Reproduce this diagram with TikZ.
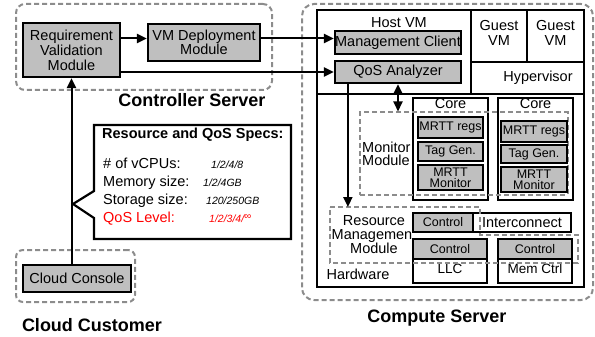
\documentclass[tikz,border=0pt]{standalone}
\usepackage{fontspec}
\setmainfont{Liberation Sans}
\usetikzlibrary{arrows.meta,fit,calc}
\begin{document}
\begin{tikzpicture}[x=1pt,y=-1pt,
  box/.style={draw=black,line width=2.2pt,inner sep=0pt},
  graybox/.style={box,fill=black!25},
  whitebox/.style={box,fill=white},
  grp/.style={draw=black!45,line width=2pt,dash pattern=on 5pt off 3pt,inner sep=0pt},
  arr/.style={line width=2pt,-{Triangle[length=10pt,width=9pt]}},
  dbl/.style={line width=2pt,{Triangle[length=10pt,width=9pt]}-{Triangle[length=10pt,width=9pt]}},
  txt/.style={inner sep=0pt,align=center,font=\fontsize{14.5}{15}\selectfont},
  small/.style={inner sep=0pt,align=center,font=\fontsize{12.5}{11}\selectfont},
  caption/.style={inner sep=0pt,font=\fontsize{18}{20}\selectfont\bfseries},
  val/.style={inner sep=0pt,anchor=base west,font=\fontsize{10.5}{12}\selectfont\itshape},
  lbl/.style={inner sep=0pt,anchor=base west,font=\fontsize{14.5}{15}\selectfont}
]
\useasboundingbox (0,0) rectangle (595,337);

% ---------------- controller server ----------------
\node[grp,rounded corners=9pt,fit={(16,4) (272,90)}] (ctrl) {};
\node[graybox,fit={(23,23) (120,77)}] (req) {};
\node[txt] (reqt) at (req) {Requirement\\Validation\\Module};
\node[graybox,fit={(148,24) (260,61)}] (vmd) {};
\node[txt,font=\fontsize{14.5}{14}\selectfont] (vmdt) at (vmd) {VM Deployment\\Module};
\node[caption] (ctrllbl) at (192,100) {Controller Server};

% ---------------- cloud customer ----------------
\node[grp,rounded corners=7pt,fit={(16,250) (135,302)}] (cust) {};
\node[graybox,fit={(23,265) (131,292)}] (cc) {};
\node[txt] (cct) at (cc) {Cloud Console};
\node[caption] (custlbl) at (92,325) {Cloud Customer};

% ---------------- request specification callout ----------------
\coordinate (tip) at (73,204);
\draw[line width=2.2pt,fill=white] (94,125) -- (291,125) -- (291,239) -- (94,239)
  -- (94,218) -- (tip) -- (94,191) -- cycle;
\node[lbl,font=\fontsize{14.5}{15}\selectfont\bfseries] (spechd) at (102,138.5) {Resource and QoS Specs:};
\node[lbl] (l1) at (103,168) {\# of vCPUs:};
\node[lbl] (l2) at (103,186) {Memory size:};
\node[lbl] (l3) at (103,204) {Storage size:};
\node[lbl,text=red] (l4) at (103,222) {QoS Level:};
\node[val] (v1) at (211,168) {1/2/4/8};
\node[val] (v2) at (203,186) {1/2/4GB};
\node[val] (v3) at (206,204) {120/250GB};
\node[val,text=red] (v4) at (209,222) {1/2/3/4/\raisebox{2.5pt}{\fontsize{10}{10}\selectfont ∞}};

% ---------------- compute server ----------------
\node[grp,rounded corners=12pt,fit={(302,4) (593,300)}] (comp) {};
\node[box,fit={(317,10) (471,94)}] (hostvm) {};
\node[box,fit={(471,10) (527,62)}] (g1) {};
\node[txt] (g1t) at ($(g1)+(0,-3)$) {Guest\\VM};
\node[box,fit={(527,10) (584,62)}] (g2) {};
\node[txt] (g2t) at ($(g2)+(0,-3)$) {Guest\\VM};
\node[box,fit={(471,62) (584,94)}] (hyp) {};
\node[txt] (hyplbl) at (538,78) {Hypervisor};
\node[box,fit={(317,94) (584,287)}] (hw) {};
\node[txt] (hostlbl) at (399,23) {Host VM};
\node[graybox,fit={(335,31) (461,54)}] (mgc) {};
\node[txt] (mgct) at (mgc) {Management Client};
\node[graybox,fit={(335,61) (461,83)}] (qos) {};
\node[txt] (qost) at (qos) {QoS Analyzer};

% cores
\node[whitebox,fit={(413,98) (488,200)}] (core1) {};
\node[whitebox,fit={(498,98) (573,200)}] (core2) {};
\node[txt,anchor=north] (c1lbl) at ($(core1.north)+(0,1.5)$) {Core};
\node[txt,anchor=north] (c2lbl) at ($(core2.north)+(0,1.5)$) {Core};

% monitor module
\node[grp,fit={(360,112.5) (567.5,194.5)}] (mon) {};
\node[txt,align=left,anchor=west,font=\fontsize{14.5}{13}\selectfont] (monlbl) at (362,154) {Monitor\\Module};
\node[graybox,line width=2.6pt,fit={(418,117) (483,138)}] (regs1) {};
\node[small] (regs1t) at (regs1) {MRTT regs};
\node[graybox,line width=1.6pt,fit={(418,142) (483,161)}] (tag1) {};
\node[small] (tag1t) at (tag1) {Tag Gen.};
\node[graybox,line width=2.6pt,fit={(418,165) (483,190)}] (mtm1) {};
\node[small] (mtm1t) at (mtm1) {MRTT\\Monitor};
\node[graybox,line width=2.6pt,fit={(501,121) (567,142)}] (regs2) {};
\node[small] (regs2t) at (regs2) {MRTT regs};
\node[graybox,line width=1.6pt,fit={(501,145) (567,163)}] (tag2) {};
\node[small] (tag2t) at (tag2) {Tag Gen.};
\node[graybox,line width=2.6pt,fit={(501,167) (567,192)}] (mtm2) {};
\node[small] (mtm2t) at (mtm2) {MRTT\\Monitor};

% resource management module and hardware
\node[txt,font=\fontsize{14.5}{13.5}\selectfont] (rmlbl) at (374,235) {Resource\\Management\\Module};
\node[txt] (hwlbl) at (358,274) {Hardware};
\fill[white] (413,232) rectangle (488,239);
\node[graybox,fit={(413,213) (473,232)}] (ctl1) {};
\node[small] (ctl1t) at (ctl1) {Control};
\node[whitebox,fit={(473,213) (571,232)}] (ic) {};
\node[txt] (ict) at (ic) {Interconnect};
\node[graybox,fit={(413,239) (487,259)}] (ctl2) {};
\node[small] (ctl2t) at (ctl2) {Control};
\node[whitebox,fit={(413,259) (487,283)}] (llc) {};
\node[txt,font=\fontsize{13.5}{14}\selectfont] (llct) at ($(llc)+(0,-2)$) {LLC};
\node[graybox,fit={(498,239) (572,259)}] (ctl3) {};
\node[small] (ctl3t) at (ctl3) {Control};
\node[whitebox,fit={(498,259) (572,283)}] (memc) {};
\node[txt,font=\fontsize{13.5}{14}\selectfont] (memct) at ($(memc)+(0,-2)$) {Mem Ctrl};
\coordinate (rmtop) at (330,207);
\draw[grp] (rmtop) -- (480,207) -- (480,235) -- (578,235) -- (578,263) -- (330,263) -- cycle;
\node[caption] (complbl) at (437,318) {Compute Server};

% ---------------- connectors ----------------
\coordinate (row1) at (0,38.5);
\draw[arr] (req.east |- row1) -- (vmd.west |- row1);
\draw[arr] (vmd.east |- row1) -- (mgc.west |- row1);
\draw[arr] (req.east |- qos.west) -- (qos.west);
\draw[arr] (cc.north -| req.south) -- (req.south);
\draw[dbl] (qos.south) -- (qos.south |- mon.north);
\coordinate (qosdrop) at ($(qos.south west)+(14,0)$);
\draw[arr] (qosdrop) -- (qosdrop |- rmtop);
\end{tikzpicture}
\end{document}
